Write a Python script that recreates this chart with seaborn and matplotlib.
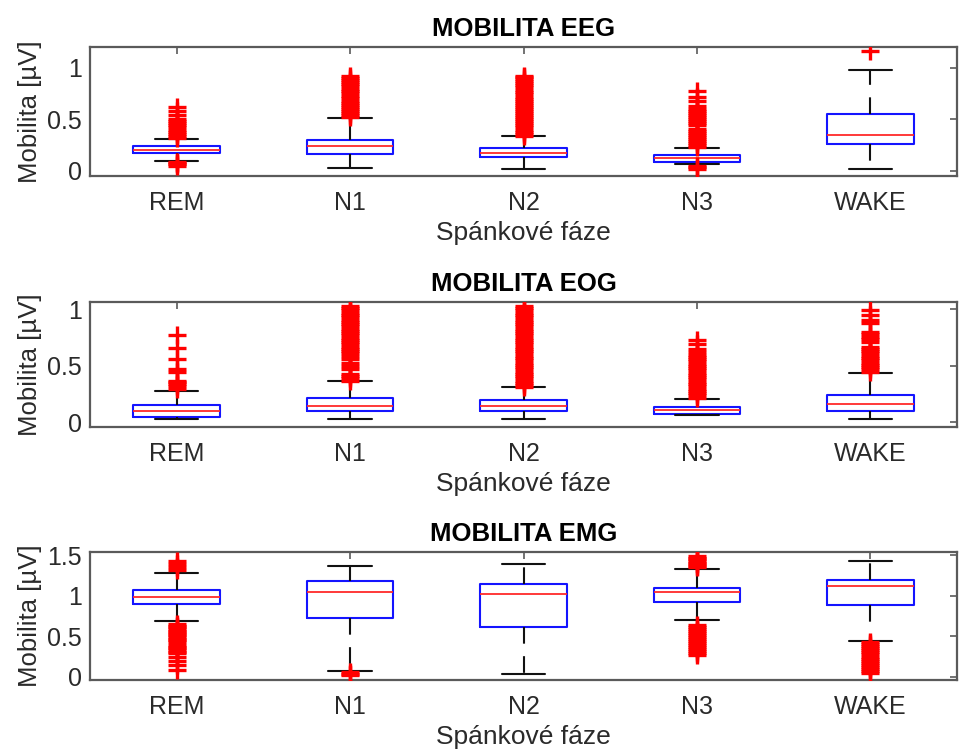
import numpy as np
import pandas as pd
import matplotlib
matplotlib.use("Agg")
import matplotlib.pyplot as plt
import seaborn as sns
from matplotlib.ticker import FuncFormatter, FixedLocator

# ---------------- data ----------------
stages = ["REM", "N1", "N2", "N3", "WAKE"]
titles = ["MOBILITA EEG", "MOBILITA EOG", "MOBILITA EMG"]
y_label = "Mobilita [µV]"
x_label = "Spánkové fáze"

# EEG box statistics
eeg_whislo = [0.10, 0.03, 0.02, 0.07, 0.02]
eeg_q1 = [0.17, 0.16, 0.13, 0.09, 0.26]
eeg_med = [0.205, 0.24, 0.175, 0.12, 0.35]
eeg_q3 = [0.24, 0.30, 0.22, 0.15, 0.55]
eeg_whishi = [0.31, 0.51, 0.34, 0.22, 0.98]
eeg_out_rem = [0.05, 0.065, 0.08, 0.09, 0.32, 0.34, 0.36, 0.38, 0.40, 0.42, 0.44,
               0.46, 0.48, 0.50, 0.54, 0.58, 0.62]
eeg_out_n1 = [0.52, 0.54, 0.56, 0.58, 0.60, 0.62, 0.64, 0.66, 0.68, 0.71, 0.73,
              0.75, 0.77, 0.79, 0.82, 0.84, 0.86, 0.88, 0.90, 0.92]
eeg_out_n2 = [0.34, 0.36, 0.38, 0.40, 0.42, 0.44, 0.46, 0.48, 0.50, 0.52, 0.54,
              0.56, 0.58, 0.60, 0.62, 0.64, 0.66, 0.68, 0.70, 0.72, 0.74, 0.76,
              0.78, 0.81, 0.83, 0.85, 0.87, 0.89, 0.91, 0.92]
eeg_out_n3 = [0.02, 0.035, 0.05, 0.23, 0.25, 0.27, 0.29, 0.31, 0.33, 0.35, 0.37,
              0.39, 0.41, 0.44, 0.46, 0.48, 0.50, 0.52, 0.54, 0.56, 0.58, 0.60,
              0.63, 0.68, 0.72, 0.77]
eeg_out_wake = [1.16]

# EOG box statistics
eog_whislo = [0.027, 0.03, 0.035, 0.065, 0.03]
eog_q1 = [0.05, 0.10, 0.10, 0.074, 0.10]
eog_med = [0.10, 0.15, 0.15, 0.11, 0.16]
eog_q3 = [0.153, 0.22, 0.20, 0.14, 0.24]
eog_whishi = [0.28, 0.37, 0.31, 0.21, 0.44]
eog_out_rem = [0.30, 0.32, 0.34, 0.36, 0.37, 0.45, 0.47, 0.56, 0.66, 0.77]
eog_out_n1 = [0.37, 0.39, 0.41, 0.43, 0.47, 0.50, 0.53, 0.56, 0.59, 0.61, 0.63,
              0.65, 0.67, 0.69, 0.71, 0.73, 0.75, 0.77, 0.79, 0.81, 0.83, 0.85,
              0.87, 0.89, 0.91, 0.93, 0.95, 0.97, 0.99, 1.01, 1.03]
eog_out_n2 = [0.31, 0.33, 0.35, 0.37, 0.39, 0.41, 0.43, 0.45, 0.47, 0.49, 0.51,
              0.53, 0.55, 0.57, 0.59, 0.61, 0.63, 0.65, 0.67, 0.69, 0.71, 0.73,
              0.75, 0.77, 0.79, 0.81, 0.83, 0.85, 0.87, 0.89, 0.91, 0.93, 0.95,
              0.97, 0.99, 1.01, 1.03]
eog_out_n3 = [0.22, 0.24, 0.26, 0.28, 0.30, 0.32, 0.34, 0.36, 0.38, 0.40, 0.42,
              0.44, 0.46, 0.48, 0.50, 0.52, 0.54, 0.56, 0.58, 0.60, 0.62, 0.65,
              0.69, 0.73]
eog_out_wake = [0.45, 0.47, 0.49, 0.51, 0.53, 0.55, 0.57, 0.59, 0.61, 0.63, 0.65,
                0.67, 0.71, 0.74, 0.76, 0.78, 0.80, 0.88, 0.91, 0.95, 0.99]

# EMG box statistics
emg_whislo = [0.69, 0.074, 0.04, 0.70, 0.44]
emg_q1 = [0.90, 0.73, 0.62, 0.92, 0.89]
emg_med = [0.99, 1.05, 1.02, 1.05, 1.12]
emg_q3 = [1.07, 1.18, 1.14, 1.09, 1.20]
emg_whishi = [1.28, 1.37, 1.39, 1.33, 1.43]
emg_out_rem = [0.08, 0.14, 0.19, 0.24, 0.29, 0.31, 0.33, 0.35, 0.37, 0.39, 0.43,
               0.45, 0.47, 0.49, 0.51, 0.53, 0.55, 0.57, 0.59, 0.61, 0.63, 0.65,
               1.32, 1.36, 1.39, 1.43]
emg_out_n1 = [0.025, 0.04, 0.055]
emg_out_n2 = []
emg_out_n3 = [0.27, 0.295, 0.32, 0.345, 0.37, 0.395, 0.42, 0.445, 0.47, 0.495,
              0.52, 0.545, 0.57, 0.595, 0.62, 0.64, 1.35, 1.37, 1.39, 1.41, 1.43,
              1.45, 1.47, 1.49]
emg_out_wake = [0.05, 0.075, 0.10, 0.125, 0.15, 0.175, 0.20, 0.225, 0.25, 0.275,
                0.30, 0.325, 0.35, 0.375, 0.40, 0.425]

eeg_ylim = (-0.05, 1.2)
eog_ylim = (-0.04, 1.065)
emg_ylim = (-0.04, 1.54)
eeg_yticks = [0, 0.5, 1]
eog_yticks = [0, 0.5, 1]
emg_yticks = [0, 0.5, 1, 1.5]

# ---------------- style ----------------
sns.set_style("white")
plt.rcParams["font.family"] = ["Liberation Sans", "DejaVu Sans"]
plt.rcParams["axes.unicode_minus"] = False

TEXT = "#2a2a2a"
FRAME = "#5a5a5a"


def box_frame(whislo, q1, med, q3, whishi):
    rows = []
    for s, lo, a, m, b, hi in zip(stages, whislo, q1, med, q3, whishi):
        for v in (lo, a, a, m, b, b, hi):
            rows.append({"stage": s, "value": v})
    return pd.DataFrame(rows)


def outlier_frame(lists):
    rows = []
    for s, vals in zip(stages, lists):
        for v in vals:
            rows.append({"stage": s, "value": v})
    return pd.DataFrame(rows, columns=["stage", "value"])


panels = [
    (box_frame(eeg_whislo, eeg_q1, eeg_med, eeg_q3, eeg_whishi),
     outlier_frame([eeg_out_rem, eeg_out_n1, eeg_out_n2, eeg_out_n3, eeg_out_wake]),
     eeg_ylim, eeg_yticks),
    (box_frame(eog_whislo, eog_q1, eog_med, eog_q3, eog_whishi),
     outlier_frame([eog_out_rem, eog_out_n1, eog_out_n2, eog_out_n3, eog_out_wake]),
     eog_ylim, eog_yticks),
    (box_frame(emg_whislo, emg_q1, emg_med, emg_q3, emg_whishi),
     outlier_frame([emg_out_rem, emg_out_n1, emg_out_n2, emg_out_n3, emg_out_wake]),
     emg_ylim, emg_yticks),
]

W, H = 960, 754
fig = plt.figure(figsize=(W / 100, H / 100), dpi=100)
fig.patch.set_facecolor("white")

# axes boxes in pixels: (left, top, right, bottom)
boxes_px = [(90, 47, 957, 176), (90, 302, 957, 427), (90, 552, 957, 680)]

for (bdf, odf, ylim, yticks), title, (l, t, r, b) in zip(panels, titles, boxes_px):
    ax = fig.add_axes([l / W, 1 - b / H, (r - l) / W, (b - t) / H])
    sns.boxplot(
        data=bdf, x="stage", y="value", order=stages, ax=ax,
        whis=(0, 100), width=0.5, fill=False, linewidth=1.5,
        boxprops={"color": "#1414ff"},
        medianprops={"color": "#ff2a2a", "linewidth": 1.3},
        whiskerprops={"color": "#111111", "linestyle": (0, (8, 6))},
        capprops={"color": "#111111"},
        showfliers=False,
    )
    if len(odf):
        sns.stripplot(
            data=odf, x="stage", y="value", order=stages, ax=ax,
            jitter=False, marker="+", color="#ff0000", size=13.5,
            linewidth=2.4, zorder=3,
        )
    ax.set_xlim(-0.5, 4.5)
    ax.set_ylim(*ylim)
    ax.yaxis.set_major_locator(FixedLocator(yticks))
    ax.yaxis.set_major_formatter(FuncFormatter(lambda v, p: f"{v:g}"))
    ax.set_title(title, fontsize=18.5, fontweight="bold", color="black", pad=8)
    ax.set_xlabel(x_label, fontsize=19, color=TEXT, labelpad=4)
    ax.set_ylabel(y_label, fontsize=18.5, color=TEXT)
    ax.yaxis.set_label_coords(-0.055, 0.5)
    ax.tick_params(axis="both", direction="in", top=True, right=True,
                   length=5, width=1.2, color=FRAME, labelsize=18,
                   labelcolor=TEXT)
    ax.tick_params(axis="x", pad=11)
    ax.tick_params(axis="y", pad=6)
    for sp in ax.spines.values():
        sp.set_visible(True)
        sp.set_color(FRAME)
        sp.set_linewidth(1.6)
    ax.set_facecolor("white")

fig.savefig("out.png", dpi=100, facecolor="white")
